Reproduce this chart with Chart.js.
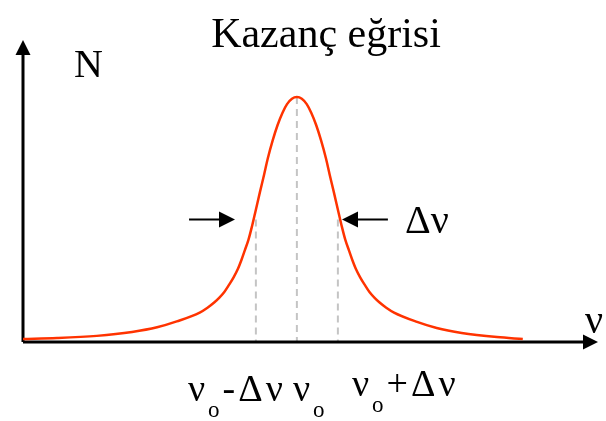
<!DOCTYPE html>
<html>
<head>
<meta charset="utf-8">
<script src="https://cdn.jsdelivr.net/npm/chart.js@4"></script>
<style>
  html, body { margin: 0; padding: 0; background: #fff; }
  canvas { display: block; }
</style>
</head>
<body>
<canvas id="kazanc" width="606" height="421" style="width:606px;height:421px"></canvas>
<script>
// Kazanç eğrisi: ν ekseni ν0 = 0, Δν = 1 birimine göre; N tepe değerine göre normalize
const nu = [
  -6.68, -5.85, -4.88, -4.02, -3.41, -2.93, -2.37, -2.18, -2.01, -1.89, -1.77, -1.66,
  -1.54, -1.44, -1.35, -1.27, -1.18, -1.10, -1.02, -0.90, -0.80, -0.71, -0.59, -0.47,
  -0.35, -0.24, -0.12, 0.00,
  0.12, 0.24, 0.35, 0.47, 0.59, 0.71, 0.80, 0.90, 1.02, 1.10, 1.18, 1.27,
  1.35, 1.44, 1.54, 1.66, 1.77, 1.89, 2.01, 2.18, 2.37, 2.93, 3.41, 4.02,
  4.88, 5.51
]
const gain = [
  0.012, 0.016, 0.025, 0.041, 0.060, 0.084, 0.120, 0.140, 0.162, 0.181, 0.204, 0.232,
  0.265, 0.298, 0.336, 0.374, 0.418, 0.469, 0.526, 0.613, 0.683, 0.749, 0.823, 0.886,
  0.936, 0.971, 0.993, 1.000,
  0.993, 0.971, 0.936, 0.886, 0.823, 0.749, 0.683, 0.613, 0.526, 0.469, 0.418, 0.374,
  0.336, 0.298, 0.265, 0.232, 0.204, 0.181, 0.162, 0.140, 0.120, 0.082, 0.057, 0.037,
  0.020, 0.012
]

// işaretli frekanslar: ν0-Δν, ν0, ν0+Δν
const markNu = [-1, 0, 1]
const markLevel = [0.5, 1, 0.5]
const markLabels = [["ν", "o", "-Δν"], ["ν", "o", ""], ["ν", "o", "+Δν"]]

// yarı yükseklikteki oklar
const arrowLevel = 0.5
const arrowFrom = [-2.63, 2.22]
const arrowTo = [-1.51, 1.10]

const nuMin = -6.68
const nuMax = 7.32
const nMax = 1.233

const serif = '"Liberation Serif", "Times New Roman", serif'
const curveColor = "#ff3300"

function arrowHead(ctx, x, y, angle, len, half) {
  ctx.save()
  ctx.translate(x, y)
  ctx.rotate(angle)
  ctx.beginPath()
  ctx.moveTo(0, 0)
  ctx.lineTo(-len, -half)
  ctx.lineTo(-len, half)
  ctx.closePath()
  ctx.fill()
  ctx.restore()
}

// ν + alt indis + kalan kısım
function nuLabel(ctx, x, y, parts, size) {
  ctx.textAlign = "left"
  ctx.textBaseline = "alphabetic"
  ctx.letterSpacing = "3px"
  ctx.font = `${size}px ${serif}`
  ctx.fillText(parts[0], x, y)
  x += ctx.measureText(parts[0]).width
  ctx.font = `${Math.round(size * 0.6)}px ${serif}`
  ctx.fillText(parts[1], x, y + size * 0.42)
  x += ctx.measureText(parts[1]).width
  ctx.font = `${size}px ${serif}`
  ctx.fillText(parts[2], x, y)
  ctx.letterSpacing = "0px"
}

const axesPlugin = {
  id: "axesPlugin",
  beforeDatasetsDraw(chart) {
    const { ctx, chartArea: a, scales } = chart
    const xs = scales.x
    const ys = scales.y
    ctx.save()
    // kesikli dikey çizgiler
    ctx.strokeStyle = "#c4c4c4"
    ctx.lineWidth = 2
    ctx.setLineDash([7, 5])
    markNu.forEach((v, i) => {
      const px = xs.getPixelForValue(v)
      ctx.beginPath()
      ctx.moveTo(px, ys.getPixelForValue(markLevel[i]))
      ctx.lineTo(px, ys.getPixelForValue(0))
      ctx.stroke()
    })
    ctx.setLineDash([])
    // eksenler
    ctx.strokeStyle = "#000"
    ctx.fillStyle = "#000"
    ctx.lineWidth = 3
    ctx.beginPath()
    ctx.moveTo(a.left, a.bottom)
    ctx.lineTo(a.left, a.top + 10)
    ctx.moveTo(a.left, a.bottom)
    ctx.lineTo(a.right - 10, a.bottom)
    ctx.stroke()
    arrowHead(ctx, a.left, a.top, -Math.PI / 2, 15, 7.5)
    arrowHead(ctx, a.right + 1, a.bottom, 0, 15, 7.5)
    ctx.restore()
  },
  afterDraw(chart) {
    const { ctx, chartArea: a, scales } = chart
    const xs = scales.x
    const ys = scales.y
    ctx.save()
    ctx.fillStyle = "#000"
    ctx.strokeStyle = "#000"

    // yarı genişlik okları
    ctx.lineWidth = 2
    const ay = ys.getPixelForValue(arrowLevel)
    arrowFrom.forEach((v, i) => {
      const x0 = xs.getPixelForValue(v)
      const x1 = xs.getPixelForValue(arrowTo[i])
      const dir = x1 > x0 ? 1 : -1
      ctx.beginPath()
      ctx.moveTo(x0, ay)
      ctx.lineTo(x1 - dir * 12, ay)
      ctx.stroke()
      arrowHead(ctx, x1, ay, dir > 0 ? 0 : Math.PI, 16, 8)
    })

    // yazılar
    ctx.textBaseline = "alphabetic"
    ctx.textAlign = "center"
    ctx.font = `42px ${serif}`
    ctx.fillText("Kazanç eğrisi", 326, 47)
    ctx.textAlign = "left"
    ctx.font = `40px ${serif}`
    ctx.fillText("N", 74, 77)
    ctx.fillText("Δν", 405, ay + 13)
    ctx.fillText("ν", a.right - 12, a.bottom - 9)

    // alt etiketler
    const dx = [-68, -4, 14]
    const dy = [59, 59, 54]
    markNu.forEach((v, i) => {
      const px = xs.getPixelForValue(v)
      nuLabel(ctx, px + dx[i], a.bottom + dy[i], markLabels[i], 38)
    })
    ctx.restore()
  }
}

new Chart(document.getElementById("kazanc"), {
  type: "line",
  data: {
    datasets: [
      {
        data: nu.map((v, i) => ({ x: v, y: gain[i] })),
        borderColor: curveColor,
        borderWidth: 2.5,
        pointRadius: 0,
        cubicInterpolationMode: "monotone",
        fill: false,
        clip: false,
      },
    ],
  },
  options: {
    responsive: false,
    animation: false,
    devicePixelRatio: 1,
    layout: { padding: { left: 23, right: 9, top: 40, bottom: 79 } },
    plugins: {
      legend: { display: false },
      tooltip: { enabled: false },
      title: { display: false },
    },
    scales: {
      x: { type: "linear", min: nuMin, max: nuMax, display: false },
      y: { min: 0, max: nMax, display: false },
    },
  },
  plugins: [axesPlugin],
})
</script>
</body>
</html>
